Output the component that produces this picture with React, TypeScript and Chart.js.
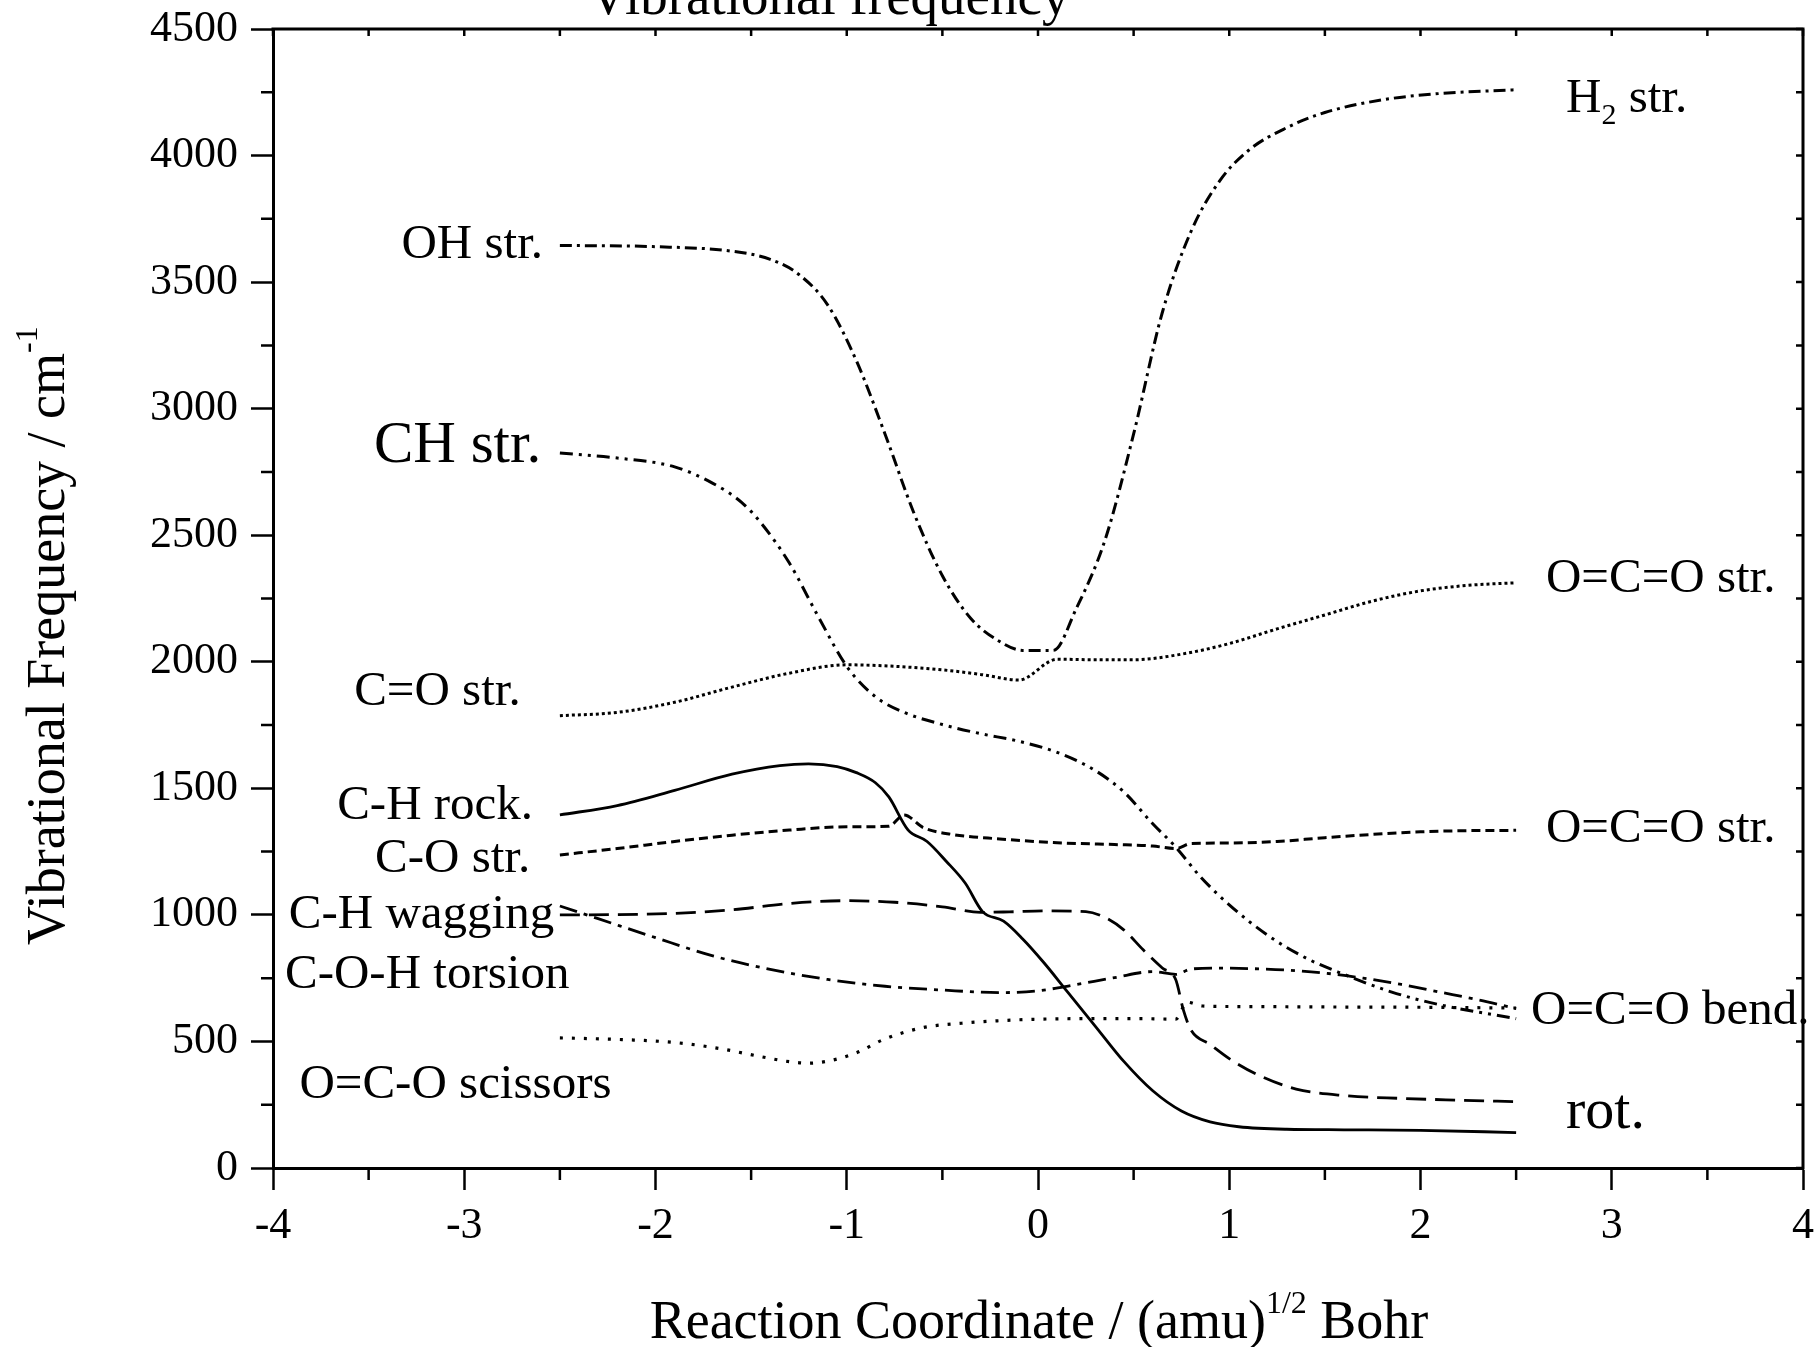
import React, { useEffect, useRef } from "react";
import { Chart, registerables } from "chart.js";

Chart.register(...registerables);

// ---- data (reaction coordinate, frequency in cm^-1) ----
const ohH2X = [-2.5, -2.0, -1.6, -1.4, -1.25, -1.1, -0.95, -0.8, -0.65, -0.5, -0.35, -0.2, -0.08, 0.08, 0.2, 0.35, 0.5, 0.65, 0.8, 0.95, 1.1, 1.3, 1.5, 1.8, 2.1, 2.5];
const ohH2Y = [3645, 3640, 3622, 3590, 3530, 3410, 3190, 2900, 2590, 2340, 2170, 2080, 2045, 2045, 2210, 2480, 2900, 3380, 3700, 3900, 4020, 4110, 4170, 4220, 4245, 4260];

const chX = [-2.5, -2.2, -1.9, -1.7, -1.55, -1.45, -1.3, -1.15, -1.0, -0.85, -0.7, -0.5, -0.3, -0.1, 0.1, 0.3, 0.45, 0.6, 0.72, 0.85, 1.0, 1.2, 1.4, 1.6, 1.85, 2.1, 2.5];
const chY = [2825, 2805, 2770, 2705, 2630, 2550, 2390, 2180, 1982, 1862, 1800, 1752, 1716, 1686, 1642, 1570, 1485, 1360, 1268, 1150, 1040, 920, 830, 765, 695, 645, 590];

const coDblX = [-2.5, -2.2, -1.9, -1.6, -1.3, -1.0, -0.75, -0.5, -0.3, -0.1, 0.1, 0.3, 0.5, 0.75, 1.0, 1.25, 1.5, 1.75, 2.0, 2.25, 2.5];
const coDblY = [1787, 1800, 1840, 1900, 1955, 1988, 1982, 1968, 1950, 1928, 2010, 2008, 2008, 2030, 2072, 2130, 2185, 2240, 2280, 2302, 2312];

const rockX = [-2.5, -2.2, -1.9, -1.6, -1.35, -1.2, -1.05, -0.95, -0.85, -0.78, -0.68, -0.58, -0.48, -0.38, -0.29, -0.18, -0.08, 0.03, 0.15, 0.3, 0.45, 0.6, 0.75, 0.9, 1.05, 1.3, 1.6, 2.0, 2.5];
const rockY = [1395, 1432, 1492, 1556, 1590, 1597, 1586, 1562, 1522, 1466, 1336, 1290, 1212, 1125, 1013, 975, 905, 812, 700, 560, 420, 305, 225, 182, 163, 153, 151, 149, 140];

const coSglX = [-2.5, -2.2, -1.9, -1.6, -1.3, -1.0, -0.78, -0.7, -0.6, -0.45, -0.2, 0.1, 0.4, 0.6, 0.72, 0.8, 1.0, 1.25, 1.5, 1.75, 2.0, 2.25, 2.5];
const coSglY = [1237, 1262, 1290, 1315, 1335, 1348, 1350, 1395, 1345, 1318, 1300, 1285, 1278, 1272, 1262, 1282, 1284, 1290, 1305, 1318, 1328, 1333, 1334];

const wagX = [-2.5, -2.2, -1.9, -1.6, -1.3, -1.0, -0.75, -0.5, -0.3, -0.15, 0.05, 0.25, 0.35, 0.45, 0.55, 0.65, 0.72, 0.76, 0.8, 0.9, 1.0, 1.15, 1.35, 1.6, 1.9, 2.2, 2.5];
const wagY = [1000, 1001, 1006, 1020, 1045, 1056, 1050, 1032, 1010, 1012, 1016, 1013, 990, 940, 862, 790, 745, 625, 545, 488, 432, 368, 312, 286, 275, 268, 262];

const torsX = [-2.5, -2.3, -2.0, -1.7, -1.4, -1.1, -0.8, -0.5, -0.2, 0.0, 0.2, 0.4, 0.6, 0.72, 0.8, 0.95, 1.1, 1.3, 1.5, 1.7, 1.9, 2.1, 2.3, 2.5];
const torsY = [1035, 985, 910, 838, 785, 745, 718, 703, 693, 700, 725, 752, 776, 765, 786, 790, 788, 782, 770, 750, 725, 695, 665, 630];

const sciX = [-2.5, -2.2, -1.9, -1.65, -1.45, -1.3, -1.2, -1.1, -0.95, -0.8, -0.6, -0.4, -0.2, 0.0, 0.3, 0.55, 0.72, 0.78, 0.86, 1.0, 1.3, 1.6, 2.0, 2.5];
const sciY = [514, 508, 496, 470, 440, 420, 414, 422, 455, 510, 555, 572, 582, 588, 590, 590, 588, 655, 640, 638, 637, 636, 635, 632];

// curve labels
const leftLabels = ["OH str.", "CH str.", "C=O str.", "C-H rock.", "C-O str.", "C-H wagging", "C-O-H torsion", "O=C-O scissors"];
const rightLabels = ["O=C=O str.", "O=C=O str.", "O=C=O bend.", "rot."];

const FONT = "'Liberation Serif', 'Times New Roman', 'DejaVu Serif', serif";

const pts = (xs: number[], ys: number[]) => xs.map((x, i) => ({ x, y: ys[i] }));

// label placement (data coordinates) and sizes
const leftPlacement = [
  { x: -2.588, y: 3595, size: 49 },
  { x: -2.598, y: 2789, size: 59 },
  { x: -2.705, y: 1829, size: 49 },
  { x: -2.64, y: 1379, size: 49 },
  { x: -2.655, y: 1169, size: 49 },
  { x: -2.53, y: 948, size: 49 },
  { x: -2.45, y: 711, size: 49 },
  { x: -2.23, y: 277, size: 49 },
];
const rightPlacement = [
  { x: 2.656, y: 2276, size: 49 },
  { x: 2.656, y: 1288, size: 49 },
  { x: 2.578, y: 569, size: 49 },
  { x: 2.761, y: 158, size: 58 },
];

type Part = { t: string; size: number; dy: number };

function drawParts(ctx: CanvasRenderingContext2D, parts: Part[], x: number, y: number, align: "left" | "right" | "center") {
  let total = 0;
  const widths = parts.map((p) => {
    ctx.font = `${p.size}px ${FONT}`;
    const w = ctx.measureText(p.t).width;
    total += w;
    return w;
  });
  let cx = align === "left" ? x : align === "right" ? x - total : x - total / 2;
  ctx.textAlign = "left";
  ctx.textBaseline = "alphabetic";
  parts.forEach((p, i) => {
    ctx.font = `${p.size}px ${FONT}`;
    ctx.fillText(p.t, cx, y + p.dy);
    cx += widths[i];
  });
}

const decoPlugin = {
  id: "deco",
  afterDraw(chart: any) {
    const { ctx, chartArea: a, scales } = chart;
    const xs = scales.x;
    const ys = scales.y;
    ctx.save();
    ctx.strokeStyle = "#000";
    ctx.fillStyle = "#000";
    // frame (top + right)
    ctx.lineWidth = 3;
    ctx.beginPath();
    ctx.moveTo(a.left - 1.5, a.top);
    ctx.lineTo(a.right, a.top);
    ctx.lineTo(a.right, a.bottom + 1.5);
    ctx.stroke();
    ctx.lineWidth = 2.5;
    ctx.beginPath();
    // minor ticks bottom (outward) and top (inward)
    for (let v = -4; v <= 4.001; v += 0.5) {
      const px = xs.getPixelForValue(v);
      if (Math.abs(v - Math.round(v)) > 0.1) {
        ctx.moveTo(px, a.bottom);
        ctx.lineTo(px, a.bottom + 12);
      }
      ctx.moveTo(px, a.top);
      ctx.lineTo(px, a.top + 7);
    }
    // minor ticks left (outward) and right (inward)
    for (let v = 0; v <= 4500.1; v += 250) {
      const py = ys.getPixelForValue(v);
      if (v % 500 !== 0) {
        ctx.moveTo(a.left, py);
        ctx.lineTo(a.left - 12, py);
      }
      ctx.moveTo(a.right, py);
      ctx.lineTo(a.right - 7, py);
    }
    ctx.stroke();

    // top title (cut off at the page top)
    drawParts(ctx, [{ t: "Vibrational frequency", size: 55, dy: 0 }], 829, 14, "center");

    // x axis title
    drawParts(
      ctx,
      [
        { t: "Reaction Coordinate / (amu)", size: 54, dy: 0 },
        { t: "1/2", size: 32, dy: -25 },
        { t: " Bohr", size: 54, dy: 0 },
      ],
      1039,
      1338,
      "center"
    );

    // y axis title (rotated)
    ctx.save();
    ctx.translate(64, 945);
    ctx.rotate(-Math.PI / 2);
    drawParts(
      ctx,
      [
        { t: "Vibrational Frequency / cm", size: 54, dy: 0 },
        { t: "-1", size: 32, dy: -27 },
      ],
      0,
      0,
      "left"
    );
    ctx.restore();

    // curve labels
    leftLabels.forEach((t, i) => {
      const p = leftPlacement[i];
      drawParts(ctx, [{ t, size: p.size, dy: 0 }], xs.getPixelForValue(p.x), ys.getPixelForValue(p.y), "right");
    });
    rightLabels.forEach((t, i) => {
      const p = rightPlacement[i];
      drawParts(ctx, [{ t, size: p.size, dy: 0 }], xs.getPixelForValue(p.x), ys.getPixelForValue(p.y), "left");
    });
    // H2 str. with subscript
    drawParts(
      ctx,
      [
        { t: "H", size: 49, dy: 0 },
        { t: "2", size: 30, dy: 12 },
        { t: " str.", size: 49, dy: 0 },
      ],
      xs.getPixelForValue(2.761),
      ys.getPixelForValue(4172),
      "left"
    );
    ctx.restore();
  },
};

export default function App() {
  const ref = useRef<HTMLCanvasElement | null>(null);
  useEffect(() => {
    if (!ref.current) return;
    const line = (data: any[], dash: number[], width: number) => ({
      data,
      borderColor: "#000",
      backgroundColor: "#000",
      borderWidth: width,
      borderDash: dash,
      pointRadius: 0,
      fill: false,
      cubicInterpolationMode: "monotone" as const,
    });
    const tickFont = { family: FONT, size: 44 };
    const zeroPad = (s: any) => {
      s.paddingTop = 0;
      s.paddingBottom = 0;
      s.paddingLeft = 0;
      s.paddingRight = 0;
    };
    const chart = new Chart(ref.current, {
      type: "line",
      data: {
        datasets: [
          line(pts(ohH2X, ohH2Y), [12, 5, 3, 5], 3),
          line(pts(chX, chY), [13, 6, 3, 6, 3, 6], 3),
          line(pts(coDblX, coDblY), [3, 3], 3),
          line(pts(rockX, rockY), [], 2.8),
          line(pts(coSglX, coSglY), [9, 5], 3),
          line(pts(wagX, wagY), [20, 9], 2.8),
          line(pts(torsX, torsY), [18, 7, 4, 7], 2.8),
          line(pts(sciX, sciY), [3, 9], 3.2),
        ] as any,
      },
      options: {
        animation: false,
        responsive: false,
        devicePixelRatio: 1,
        layout: { padding: { top: 29, right: 16, left: 0, bottom: 0 } },
        plugins: {
          legend: { display: false },
          tooltip: { enabled: false },
          title: { display: false },
        },
        elements: { point: { radius: 0 } },
        scales: {
          x: {
            type: "linear",
            min: -4,
            max: 4,
            ticks: { stepSize: 1, font: tickFont, color: "#000", padding: 10, maxRotation: 0, callback: (v: any) => String(v) },
            grid: { display: true, drawOnChartArea: false, drawTicks: true, tickLength: 22, tickWidth: 2.5, tickColor: "#000" },
            border: { display: true, width: 3, color: "#000" },
            afterFit: (s: any) => {
              s.height = 179;
              zeroPad(s);
            },
          },
          y: {
            type: "linear",
            min: 0,
            max: 4500,
            ticks: { stepSize: 500, font: tickFont, color: "#000", padding: 13, callback: (v: any) => String(v) },
            grid: { display: true, drawOnChartArea: false, drawTicks: true, tickLength: 22, tickWidth: 2.5, tickColor: "#000" },
            border: { display: true, width: 3, color: "#000" },
            afterFit: (s: any) => {
              s.width = 273;
              zeroPad(s);
            },
          },
        },
      } as any,
      plugins: [decoPlugin],
    });
    return () => chart.destroy();
  }, []);
  return (
    <div style={{ position: "fixed", left: 0, top: 0, width: 1819, height: 1347, background: "#fff" }}>
      <canvas ref={ref} width={1819} height={1347} style={{ display: "block" }} />
    </div>
  );
}
